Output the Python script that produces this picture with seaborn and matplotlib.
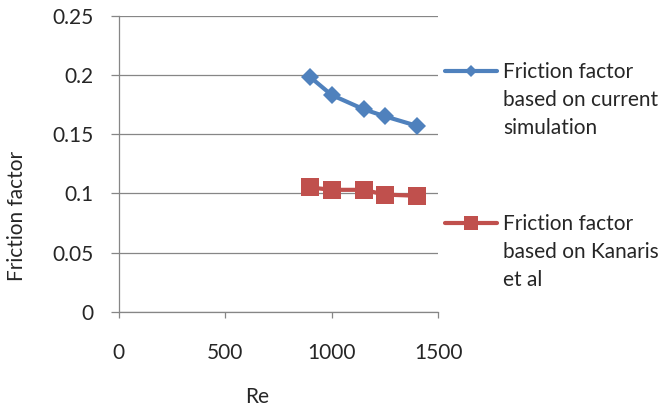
import pandas as pd
import seaborn as sns
import matplotlib.pyplot as plt

# values
re_values = [900, 1000, 1150, 1250, 1400]
f_current = [0.198, 0.183, 0.171, 0.165, 0.157]
f_kanaris = [0.105, 0.103, 0.103, 0.099, 0.098]

x_ticks = [0, 500, 1000, 1500]
y_ticks = [0, 0.05, 0.1, 0.15, 0.2, 0.25]
y_tick_labels = ['0', '0.05', '0.1', '0.15', '0.2', '0.25']

label_current = ['Friction factor', 'based on current', 'simulation']
label_kanaris = ['Friction factor', 'based on Kanaris', 'et al']

sns.set_style('white')
plt.rcParams['font.family'] = ['Lato', 'DejaVu Sans']
plt.rcParams['font.size'] = 15

grey = '#868686'
blue = '#4F81BD'
red = '#C0504D'

df = pd.DataFrame({'Re': re_values, 'current': f_current, 'kanaris': f_kanaris})

fig = plt.figure(figsize=(6.65, 4.09), dpi=100)
ax = fig.add_axes([0.1785, 0.2372, 0.4802, 0.7249])

sns.lineplot(data=df, x='Re', y='current', ax=ax, color=blue, lw=3,
             marker='D', markersize=9.5, markeredgewidth=0, label=label_current[0])
sns.lineplot(data=df, x='Re', y='kanaris', ax=ax, color=red, lw=3,
             marker='s', markersize=13, markeredgewidth=0, label=label_kanaris[0])

ax.set_xlim(0, 1500)
ax.set_ylim(0, 0.25)
ax.set_xticks(x_ticks)
ax.set_yticks(y_ticks)
ax.set_yticklabels(y_tick_labels)
ax.yaxis.grid(True, color=grey, lw=0.9)
ax.xaxis.grid(False)
ax.set_axisbelow(True)
for s in ['top', 'right']:
    ax.spines[s].set_visible(False)
for s in ['left', 'bottom']:
    ax.spines[s].set_color(grey)
    ax.spines[s].set_linewidth(0.9)
ax.tick_params(axis='x', length=4.3, width=0.9, color=grey, pad=18, direction='out', bottom=True)
ax.tick_params(axis='y', length=5.8, width=0.9, color=grey, pad=12, direction='out', left=True)

ax.set_xlabel('Re')
ax.set_ylabel('Friction factor')
ax.xaxis.label.set_va('center')
ax.yaxis.label.set_va('center')
ax.xaxis.set_label_coords(0.433, -0.286)
ax.yaxis.set_label_coords(-0.318, 0.324)

leg = ax.legend(loc='upper left', bbox_to_anchor=(445 / 665, 1 - 62.5 / 409),
                bbox_transform=fig.transFigure, frameon=False, borderpad=0,
                borderaxespad=0, handlelength=2.5, handletextpad=0.3, labelspacing=6.33)
leg.legend_handles[0].set_markersize(6.5)
leg.legend_handles[1].set_markersize(9.4)

# continuation lines of the legend labels
fig.canvas.draw()
inv = fig.transFigure.inverted()
for txt, lines in zip(leg.get_texts(), [label_current, label_kanaris]):
    bb = txt.get_window_extent()
    x0 = bb.x0
    yc = (bb.y0 + bb.y1) / 2
    for i, line in enumerate(lines[1:], start=1):
        fx, fy = inv.transform((x0, yc - 27.8 * i))
        fig.text(fx, fy, line, ha='left', va='center')

fig.savefig('out.png', dpi=100)
